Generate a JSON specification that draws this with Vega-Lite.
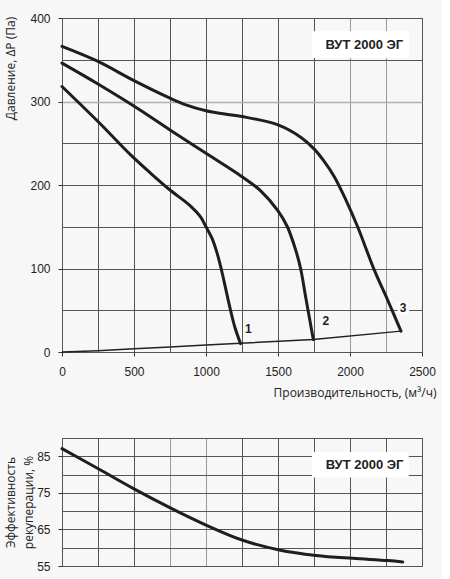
{
  "$schema": "https://vega.github.io/schema/vega-lite/v6.json",
  "background": "#f7f7f7",
  "padding": {"left": 3, "top": 11, "right": 5, "bottom": 5},
  "spacing": 38,
  "config": {
    "view": {"stroke": "#333333", "strokeWidth": 1},
    "axis": {
      "domain": false,
      "labelFont": "Liberation Sans",
      "labelFontSize": 12,
      "labelColor": "#222222",
      "labelFlush": false,
      "titleFont": "Open Sans",
      "titleFontSize": 12,
      "titleFontWeight": "normal",
      "titleColor": "#222222",
      "tickColor": "#333333",
      "tickSize": 4,
      "labelPadding": 8,
      "gridColor": "#555555",
      "gridOpacity": 1,
      "gridWidth": 1
    }
  },
  "datasets": {
    "curves": [
      {"curve": "1", "x": 0, "y": 318},
      {"curve": "1", "x": 250, "y": 276},
      {"curve": "1", "x": 477, "y": 236},
      {"curve": "1", "x": 616, "y": 214},
      {"curve": "1", "x": 750, "y": 194},
      {"curve": "1", "x": 891, "y": 175},
      {"curve": "1", "x": 961, "y": 162},
      {"curve": "1", "x": 1000, "y": 150},
      {"curve": "1", "x": 1042, "y": 136},
      {"curve": "1", "x": 1076, "y": 119},
      {"curve": "1", "x": 1105, "y": 100},
      {"curve": "1", "x": 1134, "y": 78},
      {"curve": "1", "x": 1165, "y": 54},
      {"curve": "1", "x": 1200, "y": 30},
      {"curve": "1", "x": 1240, "y": 10},
      {"curve": "2", "x": 0, "y": 346},
      {"curve": "2", "x": 250, "y": 321},
      {"curve": "2", "x": 523, "y": 292},
      {"curve": "2", "x": 750, "y": 266},
      {"curve": "2", "x": 1000, "y": 238},
      {"curve": "2", "x": 1250, "y": 210},
      {"curve": "2", "x": 1380, "y": 193},
      {"curve": "2", "x": 1500, "y": 169},
      {"curve": "2", "x": 1565, "y": 150},
      {"curve": "2", "x": 1623, "y": 122},
      {"curve": "2", "x": 1657, "y": 100},
      {"curve": "2", "x": 1692, "y": 66},
      {"curve": "2", "x": 1745, "y": 15},
      {"curve": "3", "x": 0, "y": 366},
      {"curve": "3", "x": 250, "y": 348},
      {"curve": "3", "x": 500, "y": 325},
      {"curve": "3", "x": 750, "y": 304},
      {"curve": "3", "x": 860, "y": 296},
      {"curve": "3", "x": 1000, "y": 289},
      {"curve": "3", "x": 1130, "y": 285},
      {"curve": "3", "x": 1250, "y": 282},
      {"curve": "3", "x": 1500, "y": 272},
      {"curve": "3", "x": 1660, "y": 257},
      {"curve": "3", "x": 1752, "y": 243},
      {"curve": "3", "x": 1822, "y": 228},
      {"curve": "3", "x": 1891, "y": 210},
      {"curve": "3", "x": 1972, "y": 182},
      {"curve": "3", "x": 2053, "y": 150},
      {"curve": "3", "x": 2169, "y": 98},
      {"curve": "3", "x": 2262, "y": 62},
      {"curve": "3", "x": 2354, "y": 25}
    ],
    "system": [
      {"x": 0, "y": 0},
      {"x": 250, "y": 1.5},
      {"x": 500, "y": 3.8},
      {"x": 750, "y": 6},
      {"x": 1000, "y": 8.5},
      {"x": 1240, "y": 10.5},
      {"x": 1745, "y": 15},
      {"x": 2354, "y": 25}
    ],
    "pointLabels": [
      {"x": 1294, "y": 28, "text": "1"},
      {"x": 1833, "y": 37, "text": "2"},
      {"x": 2368, "y": 53, "text": "3"}
    ],
    "labelBoxes": [
      {"x": 2330, "x2": 2411, "y": 45, "y2": 60}
    ],
    "topBox": [
      {"x": 1736, "x2": 2410, "y": 352, "y2": 384}
    ],
    "topTitle": [
      {"x": 2099, "y": 368, "text": "ВУТ 2000 ЭГ"}
    ],
    "efficiency": [
      {"x": 0, "y": 87.1},
      {"x": 252, "y": 81.6},
      {"x": 500, "y": 76.1},
      {"x": 752, "y": 70.9},
      {"x": 1000, "y": 66.2},
      {"x": 1250, "y": 62.1},
      {"x": 1509, "y": 59.4},
      {"x": 1764, "y": 57.9},
      {"x": 2019, "y": 57.1},
      {"x": 2262, "y": 56.5},
      {"x": 2366, "y": 56.1}
    ],
    "bottomBox": [
      {"x": 1736, "x2": 2408, "y": 79.2, "y2": 86.2}
    ],
    "bottomTitle": [
      {"x": 2101, "y": 82.6, "text": "ВУТ 2000 ЭГ"}
    ]
  },
  "vconcat": [
    {
      "width": 360,
      "height": 334,
      "encoding": {
        "x": {
          "field": "x",
          "type": "quantitative",
          "scale": {"domain": [0, 2500], "nice": false},
          "axis": {
            "values": [0, 250, 500, 750, 1000, 1250, 1500, 1750, 2000, 2250, 2500],
            "labelExpr": "datum.value % 500 === 0 ? datum.label : ''",
            "format": "d",
            "labelPadding": 10,
            "tickOpacity": {"condition": {"test": "datum.value % 500 === 0", "value": 1}, "value": 0},
            "gridColor": {"condition": {"test": "datum.value >= 2000 && datum.value < 2500", "value": "#9a9a9a"}, "value": "#555555"},
            "title": "Производительность, (м³/ч)",
            "titleX": 374,
            "titleY": 40,
            "titleAlign": "right",
            "titleBaseline": "middle",
            "titleAnchor": null
          }
        },
        "y": {
          "field": "y",
          "type": "quantitative",
          "scale": {"domain": [0, 400], "nice": false},
          "axis": {
            "values": [0, 50, 100, 150, 200, 250, 300, 350, 400],
            "labelExpr": "datum.value % 100 === 0 ? datum.label : ''",
            "tickOpacity": {"condition": {"test": "datum.value % 100 === 0", "value": 1}, "value": 0},
            "gridColor": {"condition": {"test": "datum.value === 300", "value": "#b0b0b0"}, "value": "#555555"},
            "gridWidth": {"condition": {"test": "datum.value === 300", "value": 1.5}, "value": 1},
            "title": "Давление, ΔP (Па)",
            "titleX": -52,
            "titleY": 50,
            "titleAngle": -90,
            "titleAlign": "center",
            "titleBaseline": "middle",
            "titleAnchor": null
          }
        }
      },
      "layer": [
        {
          "data": {"name": "system"},
          "mark": {"type": "line", "color": "#222222", "strokeWidth": 1.5},
          "encoding": {}
        },
        {
          "data": {"name": "curves"},
          "mark": {"type": "line", "color": "#1e1e1e", "strokeWidth": 3, "interpolate": "catmull-rom", "strokeCap": "round"},
          "encoding": {"detail": {"field": "curve", "type": "nominal"}}
        },
        {
          "data": {"name": "labelBoxes"},
          "mark": {"type": "rect", "color": "#ffffff"},
          "encoding": {"x2": {"field": "x2"}, "y2": {"field": "y2"}}
        },
        {
          "data": {"name": "pointLabels"},
          "mark": {"type": "text", "font": "Liberation Sans", "fontSize": 12, "fontWeight": "bold", "color": "#222222"},
          "encoding": {"text": {"field": "text"}}
        },
        {
          "data": {"name": "topBox"},
          "mark": {"type": "rect", "color": "#ffffff"},
          "encoding": {"x2": {"field": "x2"}, "y2": {"field": "y2"}}
        },
        {
          "data": {"name": "topTitle"},
          "mark": {"type": "text", "font": "Liberation Sans", "fontSize": 13, "fontWeight": "bold", "color": "#222222"},
          "encoding": {"text": {"field": "text"}}
        }
      ]
    },
    {
      "width": 360,
      "height": 128,
      "encoding": {
        "x": {
          "field": "x",
          "type": "quantitative",
          "scale": {"domain": [0, 2500], "nice": false},
          "axis": {
            "values": [0, 250, 500, 750, 1000, 1250, 1500, 1750, 2000, 2250, 2500],
            "labels": false,
            "ticks": false,
            "title": null,
            "gridColor": {"condition": {"test": "datum.value === 750 || datum.value === 1000", "value": "#9a9a9a"}, "value": "#555555"}
          }
        },
        "y": {
          "field": "y",
          "type": "quantitative",
          "scale": {"domain": [55, 90], "nice": false},
          "axis": {
            "values": [55, 60, 65, 70, 75, 80, 85, 90],
            "labelExpr": "(datum.value - 55) % 10 === 0 && datum.value < 90 ? datum.label : ''",
            "tickOpacity": {"condition": {"test": "(datum.value - 55) % 10 === 0 && datum.value < 90", "value": 1}, "value": 0},
            "title": ["Эффективность", "рекуперации, %"],
            "titleLineHeight": 18,
            "titleX": -52,
            "titleY": 64,
            "titleAngle": -90,
            "titleAlign": "center",
            "titleBaseline": "middle",
            "titleAnchor": null
          }
        }
      },
      "layer": [
        {
          "data": {"name": "efficiency"},
          "mark": {"type": "line", "color": "#1e1e1e", "strokeWidth": 3, "interpolate": "catmull-rom", "strokeCap": "round"},
          "encoding": {}
        },
        {
          "data": {"name": "bottomBox"},
          "mark": {"type": "rect", "color": "#ffffff"},
          "encoding": {"x2": {"field": "x2"}, "y2": {"field": "y2"}}
        },
        {
          "data": {"name": "bottomTitle"},
          "mark": {"type": "text", "font": "Liberation Sans", "fontSize": 13, "fontWeight": "bold", "color": "#222222"},
          "encoding": {"text": {"field": "text"}}
        }
      ]
    }
  ]
}
